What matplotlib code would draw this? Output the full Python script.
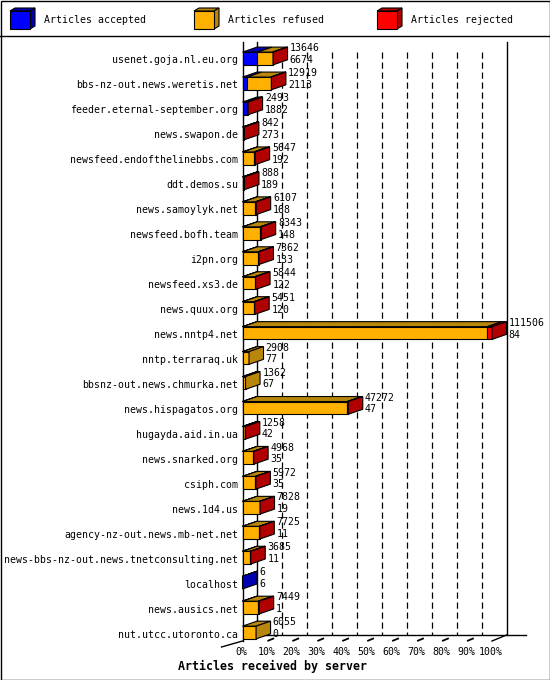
import matplotlib
matplotlib.use('Agg')
import matplotlib.pyplot as plt
from matplotlib.patches import Polygon, Rectangle

# Servers, articles received, accepted (second label) and an estimate of rejected
hosts = [
    'usenet.goja.nl.eu.org', 'bbs-nz-out.news.weretis.net', 'feeder.eternal-september.org',
    'news.swapon.de', 'newsfeed.endofthelinebbs.com', 'ddt.demos.su', 'news.samoylyk.net',
    'newsfeed.bofh.team', 'i2pn.org', 'newsfeed.xs3.de', 'news.quux.org', 'news.nntp4.net',
    'nntp.terraraq.uk', 'bbsnz-out.news.chmurka.net', 'news.hispagatos.org', 'hugayda.aid.in.ua',
    'news.snarked.org', 'csiph.com', 'news.1d4.us', 'agency-nz-out.news.mb-net.net',
    'news-bbs-nz-out.news.tnetconsulting.net', 'localhost', 'news.ausics.net', 'nut.utcc.utoronto.ca',
]
received = [13646, 12919, 2493, 842, 5647, 888, 6107, 8343, 7362, 5844, 5451, 111506,
            2908, 1362, 47272, 1258, 4968, 5972, 7828, 7725, 3685, 6, 7449, 6055]
accepted = [6674, 2113, 1882, 273, 192, 189, 168, 148, 133, 122, 120, 84,
            77, 67, 47, 42, 35, 35, 19, 11, 11, 6, 1, 0]
rejected = [150, 300, 300, 500, 500, 600, 400, 500, 400, 300, 300, 2100,
            0, 0, 500, 300, 200, 200, 200, 200, 200, 0, 400, 0]
refused = [r - a - j for r, a, j in zip(received, accepted, rejected)]

ticks = [0, 10, 20, 30, 40, 50, 60, 70, 80, 90, 100]
tick_labels = [f'{t}%' for t in ticks]

series_names = ['Articles accepted', 'Articles refused', 'Articles rejected']
front_colors = ['#0000ff', '#ffb000', '#ff0000']
dark_colors = ['#0000b0', '#b8860b', '#b00000']

MONO = 'DejaVu Sans Mono'
FS = 7.1

fig = plt.figure(figsize=(5.5, 6.8), dpi=100)

# background layer in pixel coordinates: border, legend, separator
bg = fig.add_axes([0, 0, 1, 1], zorder=-1)
bg.set_xlim(0, 550)
bg.set_ylim(680, 0)
bg.axis('off')
bg.add_patch(Rectangle((0.5, 0.5), 549, 679, fill=False, lw=1, ec='black'))
bg.plot([0, 550], [36, 36], color='black', lw=1)
for x0, name, fc, dc in zip([10, 194, 377], series_names, front_colors, dark_colors):
    bg.add_patch(Polygon([(x0, 11), (x0 + 20, 11), (x0 + 25, 8), (x0 + 5, 8)],
                         fc=dc, ec='black', lw=0.8))
    bg.add_patch(Polygon([(x0 + 20, 11), (x0 + 25, 8), (x0 + 25, 26), (x0 + 20, 29)],
                         fc=dc, ec='black', lw=0.8))
    bg.add_patch(Rectangle((x0, 11), 20, 18, fc=fc, ec='black', lw=0.8))
    bg.text(x0 + 34, 20, name, family=MONO, fontsize=FS, va='center', ha='left')

# main plot: front plane, x in percent of the biggest server
ax = fig.add_axes([242.5 / 550, 39 / 680, 249.5 / 550, 599 / 680])
n = len(hosts)
ax.set_xlim(0, 100)
ax.set_ylim(n - 0.74, -0.74)
ax.axis('off')

dx = 14.5 / 249.5 * 100   # depth offset in x (percent)
dy = 5 / 24.96            # depth offset in y (rows)
fdy = 6 / 24.96
top_y = -0.74
bot_y = n - 0.74
floor_y = bot_y - fdy
h = 0.51
shift = 0.08
scale = 100 / max(received)

# back walls and grid
ax.plot([0, 0], [top_y, bot_y], color='black', lw=1, clip_on=False, zorder=1)
ax.plot([dx, dx], [top_y, floor_y], color='black', lw=1, clip_on=False, zorder=1)
ax.plot([100 + dx, 100 + dx], [top_y, floor_y], color='black', lw=1, clip_on=False, zorder=1)
for t in ticks[1:-1]:
    ax.plot([t + dx, t + dx], [top_y + 0.4, floor_y], color='black', lw=0.9,
            linestyle=(0, (5, 3)), clip_on=False, zorder=1)
    ax.plot([t, t + dx], [bot_y, floor_y], color='black', lw=1.3,
            linestyle=(0, (4, 6)), clip_on=False, zorder=1)
ax.plot([dx, 100 + dx + 8], [floor_y, floor_y], color='black', lw=1, clip_on=False, zorder=1)
ax.plot([100, 100 + dx], [bot_y, floor_y], color='black', lw=1, clip_on=False, zorder=1)
ax.plot([-8.4, 0], [bot_y + fdy, bot_y], color='black', lw=1, clip_on=False, zorder=1)

for t, lab in zip(ticks, tick_labels):
    ax.text(t - 0.4, bot_y + 0.44, lab, family=MONO, fontsize=FS, ha='center', va='center')

# bars
for i in range(n):
    segs = [accepted[i] * scale, refused[i] * scale, rejected[i] * scale]
    yc = i - shift
    top = yc - h / 2
    bot = yc + h / 2
    left = 0
    last = None
    for k, w in enumerate(segs):
        if w <= 0:
            continue
        ax.barh(yc, w, left=left, height=h, color=front_colors[k], edgecolor='black',
                lw=0.8, zorder=3, clip_on=False)
        ax.add_patch(Polygon([(left, top), (left + w, top), (left + w + dx, top - dy),
                              (left + dx, top - dy)], fc=dark_colors[k], ec='black',
                             lw=0.8, zorder=3, clip_on=False))
        left += w
        last = k
    if last is not None:
        ax.add_patch(Polygon([(left, top), (left + dx, top - dy), (left + dx, bot - dy),
                              (left, bot)], fc=dark_colors[last], ec='black', lw=0.8,
                             zorder=3, clip_on=False))
    end = received[i] * scale
    ax.text(end + dx + 0.9, i - 0.49, str(received[i]), family=MONO, fontsize=FS,
            ha='left', va='center', zorder=4)
    ax.text(end + dx + 0.9, i - 0.02, str(accepted[i]), family=MONO, fontsize=FS,
            ha='left', va='center', zorder=4)
    ax.text(-1.8, i, hosts[i], family=MONO, fontsize=FS, ha='right', va='center')

fig.text(273 / 550, 1 - 666 / 680, 'Articles received by server', family=MONO,
         fontsize=8.4, fontweight='bold', ha='center', va='center')

fig.savefig('out.png', dpi=100)
